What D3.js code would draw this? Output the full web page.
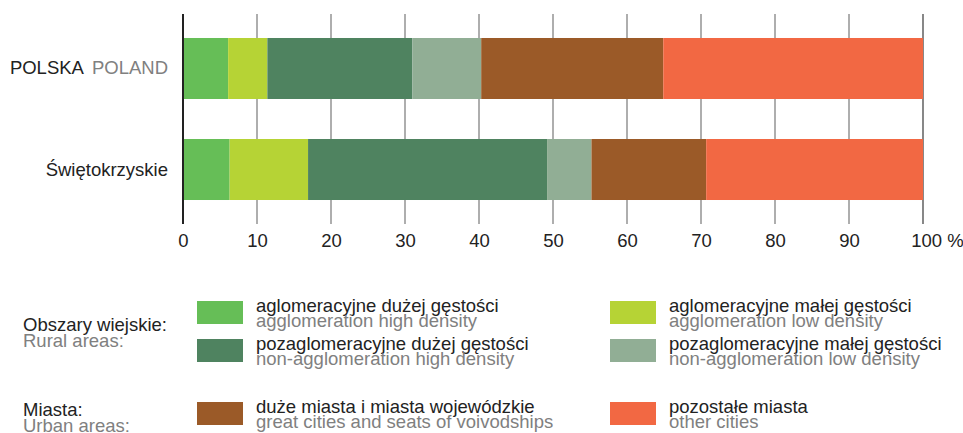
<!DOCTYPE html>
<html><head><meta charset="utf-8">
<script src="https://cdn.jsdelivr.net/npm/d3@7"></script>
<style>
body{margin:0;background:#fff;}
text{font-family:"Liberation Sans",Arial,sans-serif;}
</style></head>
<body><svg id="c" width="963" height="433"></svg>
<script>
const categories = ["POLSKA", "Świętokrzyskie"];
const categoriesEn = ["POLAND", ""];
const seriesKeys = ["aglHigh","aglLow","nonAglHigh","nonAglLow","greatCities","otherCities"];
const seriesLabelsPl = ["aglomeracyjne dużej gęstości","aglomeracyjne małej gęstości","pozaglomeracyjne dużej gęstości","pozaglomeracyjne małej gęstości","duże miasta i miasta wojewódzkie","pozostałe miasta"];
const seriesLabelsEn = ["agglomeration high density","agglomeration low density","non-agglomeration high density","non-agglomeration low density","great cities and seats of voivodships","other cities"];
const colors = ["#66be57","#b6d335","#4f8360","#91ae95","#9b5a28","#f26843"];
const polskaValues = [6.1, 5.3, 19.6, 9.3, 24.6, 35.1];
const swietokrzyskieValues = [6.3, 10.6, 32.3, 6.0, 15.5, 29.3];
const tickValues = [0,10,20,30,40,50,60,70,80,90,100];
const groupLabelsPl = ["Obszary wiejskie:", "Miasta:"];
const groupLabelsEn = ["Rural areas:", "Urban areas:"];

const rows = [polskaValues, swietokrzyskieValues].map((vals, i) => {
  const o = {cat: categories[i]};
  seriesKeys.forEach((k, j) => o[k] = vals[j]);
  return o;
});
const stacked = d3.stack().keys(seriesKeys)(rows);

const svg = d3.select("#c");
const fs = 18.5;
const x = d3.scaleLinear().domain([0,100]).range([183,923]);
const y = d3.scaleBand().domain(categories).range([14,224]).paddingInner(0.396).paddingOuter(0.2376);
const dark = "#222", grey = "#808080";

// grid lines
svg.append("g").selectAll("line").data(tickValues.filter(d => d > 0)).join("line")
  .attr("x1", d => x(d)).attr("x2", d => x(d)).attr("y1", 14).attr("y2", 224)
  .attr("stroke", d => d === 100 ? "#555" : "#8c8c8c").attr("stroke-width", 1.4);

// bars
svg.append("g").selectAll("g").data(stacked).join("g")
  .attr("fill", (d, i) => colors[i])
  .selectAll("rect").data(d => d).join("rect")
  .attr("x", d => x(d[0])).attr("width", d => x(d[1]) - x(d[0]))
  .attr("y", d => y(d.data.cat)).attr("height", y.bandwidth());

// zero axis line
svg.append("line").attr("x1", x(0)).attr("x2", x(0)).attr("y1", 14).attr("y2", 224)
  .attr("stroke", "#222").attr("stroke-width", 2);

// x axis tick labels
const ax = svg.append("g").attr("transform", "translate(0,224)")
  .call(d3.axisBottom(x).tickValues(tickValues).tickSize(0).tickPadding(10).tickFormat(d => d === 100 ? "100 %" : d));
ax.select(".domain").remove();
ax.selectAll("text").attr("font-size", fs).attr("fill", dark)
  .attr("font-family", "Liberation Sans, Arial, sans-serif")
  .attr("dx", d => d === 100 ? 14 : 0);

// row labels
categories.forEach((c, i) => {
  const t = svg.append("text").attr("x", 168).attr("y", y(c) + y.bandwidth()/2 + 6)
    .attr("text-anchor", "end").attr("font-size", fs).attr("fill", dark);
  t.append("tspan").text(c);
  if (categoriesEn[i]) t.append("tspan").attr("fill", grey).attr("dx", 8).text(categoriesEn[i]);
});

// legend
const legendPos = [
  {x: 197, y: 301}, {x: 610, y: 301},
  {x: 197, y: 339}, {x: 610, y: 339},
  {x: 197, y: 402}, {x: 610, y: 402}
];
seriesKeys.forEach((k, i) => {
  const p = legendPos[i];
  svg.append("rect").attr("x", p.x).attr("y", p.y).attr("width", 46).attr("height", 23).attr("fill", colors[i]);
  svg.append("text").attr("x", p.x + 59).attr("y", p.y + 11).attr("font-size", fs).attr("fill", dark).text(seriesLabelsPl[i]);
  svg.append("text").attr("x", p.x + 59).attr("y", p.y + 26).attr("font-size", fs).attr("fill", grey).text(seriesLabelsEn[i]);
});
const groupY = [331, 416];
groupLabelsPl.forEach((g, i) => {
  svg.append("text").attr("x", 23).attr("y", groupY[i]).attr("font-size", fs).attr("fill", dark).text(g);
  svg.append("text").attr("x", 23).attr("y", groupY[i] + 16).attr("font-size", fs).attr("fill", grey).text(groupLabelsEn[i]);
});
</script></body></html>
